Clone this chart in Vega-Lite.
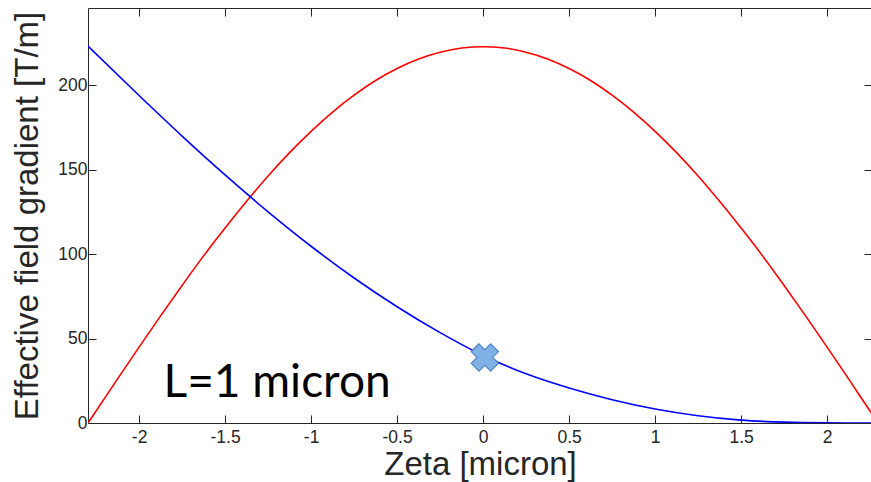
{
  "$schema": "https://vega.github.io/schema/vega-lite/v6.json",
  "width": 784,
  "height": 415,
  "autosize": "none",
  "padding": {"left": 88, "top": 8, "right": 0, "bottom": 59},
  "background": "white",
  "config": {
    "view": {"stroke": "#262626", "strokeWidth": 1},
    "axis": {
      "grid": false,
      "domain": false,
      "tickColor": "#262626",
      "tickWidth": 1,
      "labelFont": "Liberation Sans",
      "labelFontSize": 17.5,
      "labelColor": "#262626",
      "titleFont": "Liberation Sans",
      "titleFontWeight": "normal",
      "titleColor": "#262626",
      "titleLimit": 1000
    }
  },
  "resolve": {"axis": {"x": "independent", "y": "independent"}},
  "layer": [
    {
      "data": {"values": [
        {"zeta": -2.297, "g": 0, "series": "red"},
        {"zeta": -2.25, "g": 7.1, "series": "red"},
        {"zeta": -2.125, "g": 26.1, "series": "red"},
        {"zeta": -2.0, "g": 44.9, "series": "red"},
        {"zeta": -1.875, "g": 63.4, "series": "red"},
        {"zeta": -1.75, "g": 81.4, "series": "red"},
        {"zeta": -1.625, "g": 98.9, "series": "red"},
        {"zeta": -1.5, "g": 115.4, "series": "red"},
        {"zeta": -1.375, "g": 131.2, "series": "red"},
        {"zeta": -1.25, "g": 146.2, "series": "red"},
        {"zeta": -1.125, "g": 160.0, "series": "red"},
        {"zeta": -1.0, "g": 172.6, "series": "red"},
        {"zeta": -0.875, "g": 184.0, "series": "red"},
        {"zeta": -0.75, "g": 194.0, "series": "red"},
        {"zeta": -0.625, "g": 202.7, "series": "red"},
        {"zeta": -0.5, "g": 209.8, "series": "red"},
        {"zeta": -0.375, "g": 215.4, "series": "red"},
        {"zeta": -0.25, "g": 219.4, "series": "red"},
        {"zeta": -0.125, "g": 221.9, "series": "red"},
        {"zeta": 0, "g": 222.7, "series": "red"},
        {"zeta": 0.125, "g": 221.9, "series": "red"},
        {"zeta": 0.25, "g": 219.4, "series": "red"},
        {"zeta": 0.375, "g": 215.4, "series": "red"},
        {"zeta": 0.5, "g": 209.8, "series": "red"},
        {"zeta": 0.625, "g": 202.7, "series": "red"},
        {"zeta": 0.75, "g": 194.0, "series": "red"},
        {"zeta": 0.875, "g": 184.0, "series": "red"},
        {"zeta": 1.0, "g": 172.6, "series": "red"},
        {"zeta": 1.125, "g": 160.0, "series": "red"},
        {"zeta": 1.25, "g": 146.2, "series": "red"},
        {"zeta": 1.375, "g": 131.2, "series": "red"},
        {"zeta": 1.5, "g": 115.4, "series": "red"},
        {"zeta": 1.625, "g": 98.9, "series": "red"},
        {"zeta": 1.75, "g": 81.4, "series": "red"},
        {"zeta": 1.875, "g": 63.4, "series": "red"},
        {"zeta": 2.0, "g": 44.9, "series": "red"},
        {"zeta": 2.125, "g": 26.1, "series": "red"},
        {"zeta": 2.25, "g": 7.1, "series": "red"},
        {"zeta": 2.261, "g": 5.5, "series": "red"},
        {"zeta": -2.297, "g": 223.0, "series": "blue"},
        {"zeta": -2.0, "g": 193.8, "series": "blue"},
        {"zeta": -1.75, "g": 169.8, "series": "blue"},
        {"zeta": -1.5, "g": 146.8, "series": "blue"},
        {"zeta": -1.25, "g": 125.0, "series": "blue"},
        {"zeta": -1.0, "g": 104.6, "series": "blue"},
        {"zeta": -0.75, "g": 85.8, "series": "blue"},
        {"zeta": -0.5, "g": 68.8, "series": "blue"},
        {"zeta": -0.25, "g": 53.5, "series": "blue"},
        {"zeta": 0, "g": 40.0, "series": "blue"},
        {"zeta": 0.25, "g": 29.1, "series": "blue"},
        {"zeta": 0.5, "g": 20.7, "series": "blue"},
        {"zeta": 0.75, "g": 13.8, "series": "blue"},
        {"zeta": 1.0, "g": 8.3, "series": "blue"},
        {"zeta": 1.25, "g": 4.3, "series": "blue"},
        {"zeta": 1.5, "g": 1.7, "series": "blue"},
        {"zeta": 1.75, "g": 0.5, "series": "blue"},
        {"zeta": 2.0, "g": 0.1, "series": "blue"},
        {"zeta": 2.261, "g": 0, "series": "blue"}
      ]},
      "mark": {"type": "line", "interpolate": "monotone", "strokeWidth": 1.6, "clip": true},
      "encoding": {
        "x": {
          "field": "zeta", "type": "quantitative",
          "scale": {"domain": [-2.297, 2.261], "nice": false, "zero": false},
          "axis": {
            "orient": "bottom",
            "values": [-2, -1.5, -1, -0.5, 0, 0.5, 1, 1.5, 2],
            "format": "~g",
            "tickSize": -8,
            "labelPadding": 13,
            "labelExpr": "replace(datum.label, '\u2212', '-')",
            "title": "Zeta [micron]",
            "titleFontSize": 33,
            "titlePadding": 3
          }
        },
        "y": {
          "field": "g", "type": "quantitative",
          "scale": {"domain": [0, 245.6], "nice": false, "zero": false},
          "axis": {
            "orient": "left",
            "values": [0, 50, 100, 150, 200],
            "tickSize": -8,
            "labelPadding": 9,
            "title": "Effective field gradient [T/m]",
            "titleFontSize": 33,
            "titlePadding": 13
          }
        },
        "color": {
          "field": "series", "type": "nominal",
          "scale": {"domain": ["red", "blue"], "range": ["#ff0000", "#0000ff"]},
          "legend": null
        }
      }
    },
    {
      "data": {"values": [{"zeta": 0.01, "g": 38.8}]},
      "mark": {"type": "point", "shape": "cross", "angle": 45, "size": 760, "filled": true, "fill": "#7fb1e4", "stroke": "#4f86c6", "strokeWidth": 1.2, "opacity": 1},
      "encoding": {
        "x": {"field": "zeta", "type": "quantitative", "axis": null},
        "y": {"field": "g", "type": "quantitative", "axis": null}
      }
    },
    {
      "data": {"values": [{"zeta": -1.858, "g": 15.2, "label": "L=1 micron"}]},
      "mark": {"type": "text", "font": "Lato", "fontSize": 46, "align": "left", "baseline": "alphabetic", "color": "#000000"},
      "encoding": {
        "x": {"field": "zeta", "type": "quantitative", "axis": null},
        "y": {"field": "g", "type": "quantitative", "axis": null},
        "text": {"field": "label"}
      }
    },
    {
      "data": {"values": [{"zeta": 0, "g": 0}]},
      "mark": {"type": "point", "opacity": 0},
      "encoding": {
        "x": {"field": "zeta", "type": "quantitative",
          "axis": {"orient": "top", "values": [-2, -1.5, -1, -0.5, 0, 0.5, 1, 1.5, 2], "tickSize": -8, "labels": false, "title": null}},
        "y": {"field": "g", "type": "quantitative",
          "axis": {"orient": "right", "values": [0, 50, 100, 150, 200], "tickSize": -8, "labels": false, "title": null}}
      }
    }
  ]
}
